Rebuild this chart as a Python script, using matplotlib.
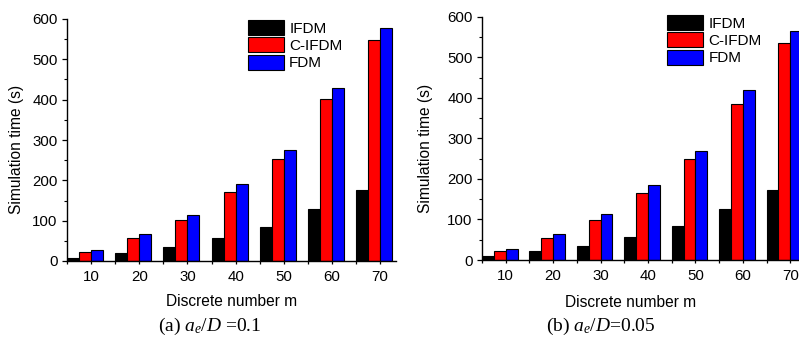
import matplotlib
matplotlib.use("Agg")
import matplotlib.pyplot as plt
import numpy as np

plt.rcParams['font.family'] = ['Liberation Sans', 'DejaVu Sans']
plt.rcParams['mathtext.fontset'] = 'custom'
plt.rcParams['mathtext.rm'] = 'Liberation Serif'
plt.rcParams['mathtext.it'] = 'Liberation Serif:italic'

categories = ["10", "20", "30", "40", "50", "60", "70"]
series_names = ["IFDM", "C-IFDM", "FDM"]
colors = ["#000000", "#ff0000", "#0000ff"]

# panel (a) a_e/D = 0.1
a_ifdm = [8, 21, 35, 57, 84, 129, 176]
a_cifdm = [22, 57, 102, 170, 252, 402, 547]
a_fdm = [28, 66, 115, 190, 276, 430, 578]

# panel (b) a_e/D = 0.05
b_ifdm = [10, 21, 35, 57, 84, 127, 173]
b_cifdm = [22, 54, 99, 166, 248, 385, 534]
b_fdm = [28, 65, 113, 185, 270, 419, 565]

captions = [r"(a) $a_e/D$ =0.1", r"(b) $a_e/D$=0.05"]

W, H = 799, 337
fig = plt.figure(figsize=(W / 100, H / 100), dpi=100)

def px_axes(left, bottom_y, right, top_y):
    return fig.add_axes([left / W, (H - bottom_y) / H, (right - left) / W, (bottom_y - top_y) / H])

ax1 = px_axes(67, 261, 396, 19)
ax2 = px_axes(482, 260, 806, 16.7)

def draw(ax, data, leg_anchor, ylab_xy, xlab_xy):
    x = np.arange(len(categories))
    bw = 0.25
    offsets = [-0.375, -0.125, 0.125]
    for vals, name, c, off in zip(data, series_names, colors, offsets):
        ax.bar(x + off, vals, width=bw, color=c, edgecolor="#000000", linewidth=0.8, label=name)
    ax.set_xlim(-0.5, 6.33)
    ax.set_ylim(0, 600)
    ax.set_xticks(x)
    ax.set_xticklabels(categories)
    ax.set_xticks(np.arange(len(categories)) - 0.5, minor=True)
    ax.set_yticks(np.arange(0, 601, 100))
    ax.set_yticks(np.arange(50, 600, 100), minor=True)
    for s in ["top", "right"]:
        ax.spines[s].set_visible(False)
    for s in ["left", "bottom"]:
        ax.spines[s].set_linewidth(1.0)
    ax.tick_params(axis="x", which="both", direction="out", length=2.5, width=0.9, labelsize=10.8, pad=4.0)
    ax.tick_params(axis="y", which="major", direction="out", length=3.8, width=0.9, labelsize=10.8, pad=3.0)
    ax.tick_params(axis="y", which="minor", direction="out", length=2.2, width=0.8)
    ax.set_ylabel("Simulation time (s)", fontsize=11.2)
    ax.set_xlabel("Discrete number m", fontsize=11.2)
    ax.yaxis.set_label_coords(*ylab_xy)
    ax.xaxis.set_label_coords(*xlab_xy)
    ax.legend(loc="upper left", bbox_to_anchor=(leg_anchor[0] / W, 1 - leg_anchor[1] / H),
              bbox_transform=fig.transFigure, frameon=False, fontsize=11,
              handlelength=2.35, handleheight=1.15, labelspacing=0.1, handletextpad=0.35,
              borderpad=0, borderaxespad=0)

draw(ax1, [a_ifdm, a_cifdm, a_fdm], (248, 20), (-0.131, 0.459), (0.5, -0.136))
draw(ax2, [b_ifdm, b_cifdm, b_fdm], (667, 15), (-0.151, 0.457), (0.457, -0.144))

fig.text(210 / W, (H - 331) / H, captions[0], ha="center", va="baseline", fontsize=14,
         family=["Liberation Serif"])
fig.text(601 / W, (H - 331) / H, captions[1], ha="center", va="baseline", fontsize=14,
         family=["Liberation Serif"])

fig.savefig("out.png", dpi=100)
